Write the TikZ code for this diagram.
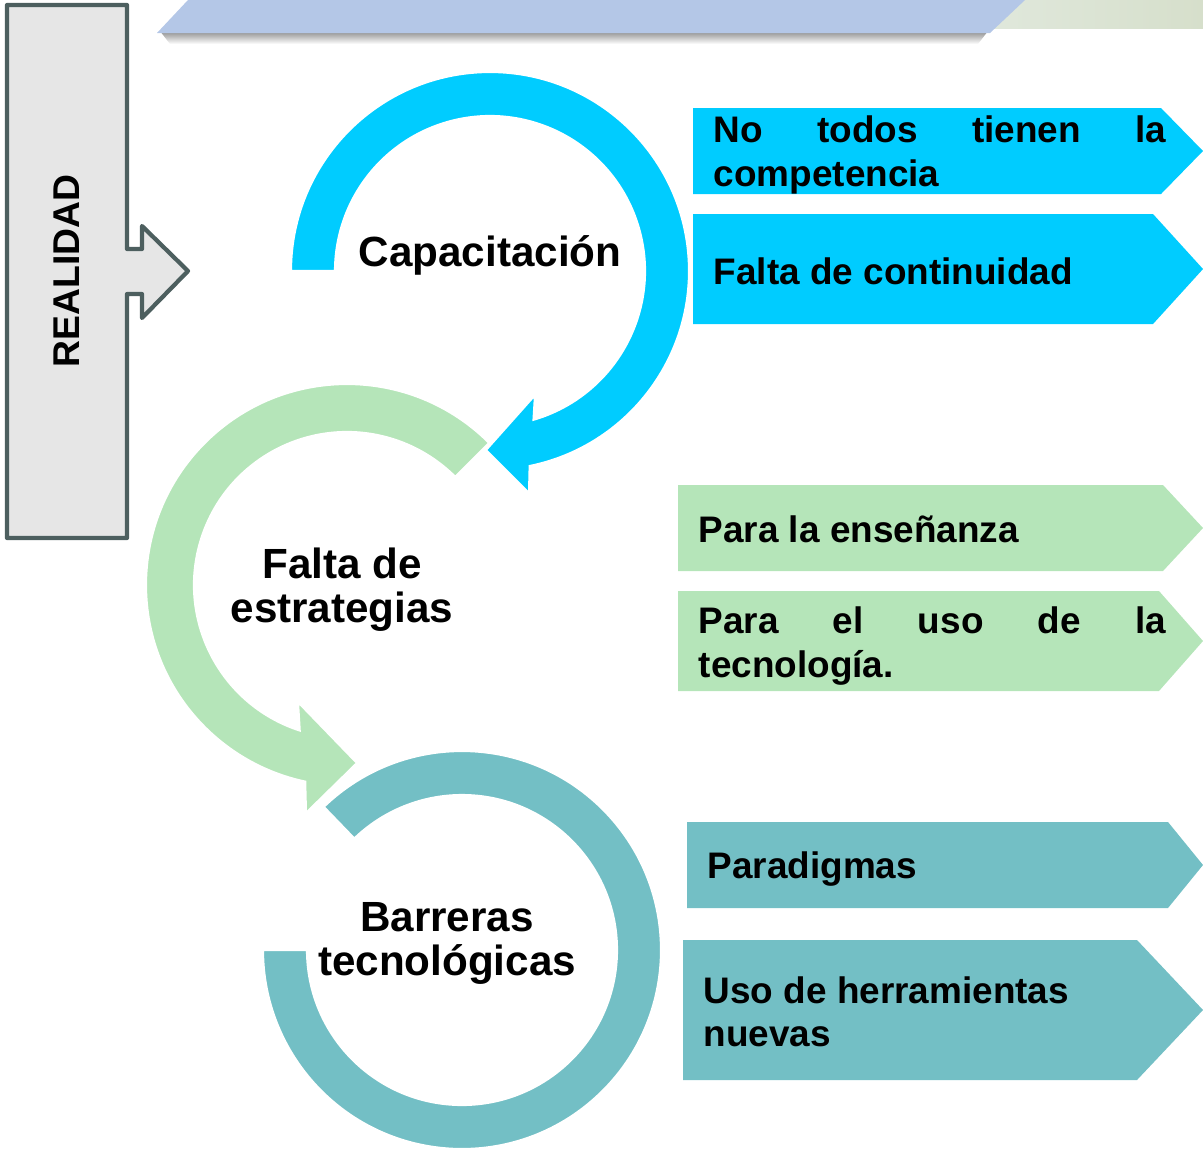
\documentclass[tikz,border=0pt]{standalone}
\usepackage{fontspec}
\setmainfont{Liberation Sans}
\definecolor{capcyan}{HTML}{00CCFF}
\definecolor{estgreen}{HTML}{B5E5B9}
\definecolor{barteal}{HTML}{73BFC5}
\definecolor{bannerblue}{HTML}{B4C7E7}
\definecolor{bandleft}{HTML}{E0E8DC}
\definecolor{bandright}{HTML}{D6DFCB}
\definecolor{realgray}{HTML}{E6E6E6}
\definecolor{realedge}{HTML}{4D5F5F}
\hyphenpenalty=10000
\tolerance=10000

\begin{document}
\begin{tikzpicture}[
            x = 0.01cm, y = -0.01cm, % one unit is one pixel, y runs down
            ringarrow/.style = {draw = white, line width = 0.6pt},
            ringtext/.style = {align = center, inner sep = 0pt,
                font = \bfseries\fontsize{12}{12.5}\selectfont},
            itemtext/.style = {anchor = west, inner sep = 0pt,
                font = \bfseries\fontsize{10.5}{12.3}\selectfont}
        ]
        \useasboundingbox (0,0) rectangle (1203,1148);

        % banner on top
        \shade[left color = bandleft, right color = bandright] (985,0) rectangle (1203,28);
        \shade[top color = black!45, bottom color = white] (160,31) -- (988,31) -- (978,44) -- (170,44) -- cycle;
        \fill[bannerblue] (188,0) -- (1025,0) -- (990,33) -- (157,33) -- cycle;

        % realidad
        \draw[fill = realgray, draw = realedge, line width = 1.2pt, line join = round]
            (7,5) -- (127,5) -- (127,249) -- (142,249) -- (142,226) -- (188,271)
            -- (142,318) -- (142,294) -- (127,294) -- (127,538) -- (7,538) -- cycle;
        \node[rotate = 90, inner sep = 0pt, font = \bfseries\fontsize{10.6}{12}\selectfont] (R) at (67,271) {REALIDAD};

        % circular arrows
        \begin{scope}[shift = {(462,950)}]
            \fill[barteal, ringarrow] (226:199) arc[start angle = 226, end angle = 540, radius = 199]
                -- (540:155) arc[start angle = 540, end angle = 226, radius = 155] -- cycle;
        \end{scope}
        \begin{scope}[shift = {(347,585)}]
            \fill[estgreen, ringarrow] (-45:201) arc[start angle = -45, end angle = -258, radius = 201]
                -- (-41,228) -- (10,178) -- (-49,117)
                -- (-252:153) arc[start angle = -252, end angle = -45, radius = 153] -- cycle;
        \end{scope}
        \begin{scope}[shift = {(490,271)}]
            \fill[capcyan, ringarrow] (180:199) arc[start angle = 180, end angle = 438.5, radius = 199]
                -- (39,222) -- (-4,179) -- (45,124)
                -- (433.7:155) arc[start angle = 433.7, end angle = 180, radius = 155] -- cycle;
        \end{scope}

        \node[ringtext] (C) at (490,255) {Capacitación};
        \node[ringtext] (E) at (342,590) {Falta de\\estrategias};
        \node[ringtext] (B) at (447,943) {Barreras\\tecnológicas};

        % boxes on the right
        \fill[capcyan] (693,108) -- (1161,108) -- (1203,151) -- (1161,194) -- (693,194) -- cycle;
        \fill[capcyan] (693,214) -- (1153,214) -- (1203,269) -- (1153,324) -- (693,324) -- cycle;
        \fill[estgreen] (678,485) -- (1163,485) -- (1203,528) -- (1163,571) -- (678,571) -- cycle;
        \fill[estgreen] (678,591) -- (1159,591) -- (1203,641) -- (1159,691) -- (678,691) -- cycle;
        \fill[barteal] (687,822) -- (1168,822) -- (1203,865) -- (1168,908) -- (687,908) -- cycle;
        \fill[barteal] (683,940) -- (1137,940) -- (1203,1010) -- (1137,1080) -- (683,1080) -- cycle;

        \node[itemtext, text width = 4.52cm, align = justify] (C1) at (713,155) {No todos tienen la competencia};
        \node[itemtext] (C2) at (713,271) {Falta de continuidad};
        \node[itemtext] (E1) at (698,529) {Para la enseñanza};
        \node[itemtext, text width = 4.67cm, align = justify] (E2) at (698,646) {Para el uso de la tecnología.};
        \node[itemtext] (B1) at (707,869) {Paradigmas};
        \node[itemtext, align = left] (B2) at (703,1012) {Uso de herramientas\\nuevas};

  \end{tikzpicture}
\end{document}
